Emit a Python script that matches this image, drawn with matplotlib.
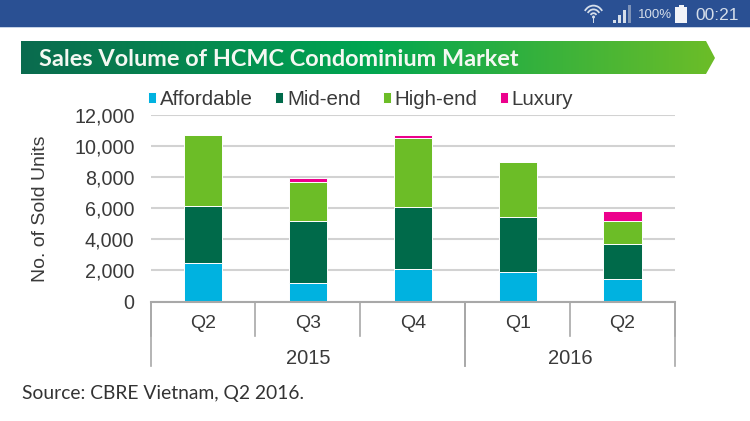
import numpy as np
import matplotlib
matplotlib.use("Agg")
import matplotlib.pyplot as plt
from matplotlib.patches import Polygon, Rectangle, Arc, Circle
from matplotlib.colors import LinearSegmentedColormap

quarters = ["Q2", "Q3", "Q4", "Q1", "Q2"]
years = ["2015", "2016"]
year_spans = [(0, 3), (3, 5)]
affordable = [2490, 1160, 2060, 1870, 1460]
mid_end = [3650, 4040, 4015, 3580, 2210]
high_end = [4550, 2460, 4445, 3550, 1500]
luxury = [0, 305, 190, 0, 670]
series = [("Affordable", affordable, "#00B2E0"), ("Mid-end", mid_end, "#006A4A"),
          ("High-end", high_end, "#6CBD27"), ("Luxury", luxury, "#EC008C")]
yticks = [0, 2000, 4000, 6000, 8000, 10000, 12000]
W, H = 750, 421
TXT = "#3A3A3A"
plt.rcParams["font.family"] = ["Liberation Sans", "DejaVu Sans"]

fig = plt.figure(figsize=(7.5, 4.21), dpi=100, facecolor="white")
bg = fig.add_axes([0, 0, 1, 1], zorder=0)
bg.set_xlim(0, W); bg.set_ylim(H, 0); bg.axis("off")

# status bar
bg.add_patch(Rectangle((0, 0), W, 27, color="#2A5093", lw=0))
bg.add_patch(Rectangle((0, 27), W, 1.2, color="#C5D2E6", lw=0))
ICON = "#D5DEEA"
for r in (4, 8, 12):
    bg.add_patch(Arc((593.5, 17), r * 1.7, r * 1.9, theta1=215, theta2=325, color=ICON, lw=1.3))
bg.add_patch(Circle((593.5, 17), 1.5, color=ICON, lw=0))
bg.add_patch(Rectangle((592.7, 17), 1.6, 6, color=ICON, lw=0))
for i, (x, h) in enumerate(zip((613, 618, 623, 627.5), (3, 8, 13, 18))):
    bg.add_patch(Rectangle((x, 23 - h), 3, h, color=ICON if i < 3 else "#7E93B8", lw=0))
bg.text(655.5, 15, "100%", color=ICON, fontsize=9.5, ha="center", va="center")
bg.add_patch(Rectangle((675, 7), 12, 16, color="#F2F4F8", lw=0))
bg.add_patch(Rectangle((678.5, 4.5), 5, 3, color="#F2F4F8", lw=0))
bg.text(717.5, 15, "00:21", color=ICON, fontsize=12.5, ha="center", va="center")

# banner
cmap = LinearSegmentedColormap.from_list("b", ["#0A6B4E", "#00A651", "#6CBD28"])
im = bg.imshow(np.linspace(0, 1, 256)[None, :], cmap=cmap, extent=(21, 715, 74, 41), aspect="auto", zorder=1)
bg.set_xlim(0, W); bg.set_ylim(H, 0)
poly = Polygon([(21, 41), (706, 41), (715, 58), (706, 74), (21, 74)], closed=True, transform=bg.transData, fc="none", ec="none")
bg.add_patch(poly)
im.set_clip_path(poly)
bg.text(39, 59, "Sales Volume of HCMC Condominium Market", color="#F4F8F2", fontsize=16.9,
        fontweight="bold", family="Lato", ha="left", va="center", zorder=2)
bg.text(22, 393, "Source: CBRE Vietnam, Q2 2016.", color="#333333", fontsize=13.9,
        family="Lato", ha="left", va="center")

# chart
L, R, T, B = 150.5, 675, 115, 301.5
ax = fig.add_axes([L / W, 1 - B / H, (R - L) / W, (B - T) / H], zorder=1)
ax.patch.set_alpha(0)
x = np.arange(len(quarters))
bottom = np.zeros(len(x))
for name, vals, col in series:
    ax.bar(x, vals, 0.365, bottom=bottom, color=col, edgecolor="white", linewidth=0.7, label=name, zorder=3)
    bottom += np.array(vals)
ax.set_xlim(-0.5, 4.5)
ax.set_ylim(0, 12000)
ax.set_yticks(yticks, [f"{v:,}" for v in yticks], fontsize=14.2, color=TXT)
ax.tick_params(axis="y", length=0, pad=11.5)
ax.tick_params(axis="x", length=0, labelbottom=False)
ax.grid(axis="y", color="#D2D2D2", lw=1.5, zorder=1)
ax.set_axisbelow(True)
for s in ax.spines.values():
    s.set_visible(False)
ax.axhline(0, color="#A8A8A8", lw=1.5, clip_on=False, zorder=4)
ax.set_ylabel("No. of Sold Units", fontsize=14, color=TXT)
ax.yaxis.set_label_coords((49 - L) / (R - L), 0.5)

tr = ax.get_xaxis_transform()
fy = lambda py: (B - py) / (B - T)
for i in range(len(quarters) + 1):
    ax.plot([i - 0.5] * 2, [0, fy(336)], transform=tr, color="#A8A8A8", lw=1.2, clip_on=False)
for a, b in year_spans:
    for e in (a, b):
        ax.plot([e - 0.5] * 2, [0, fy(366)], transform=tr, color="#A8A8A8", lw=1.2, clip_on=False)
for i, q in enumerate(quarters):
    ax.text(i, fy(323), q, transform=tr, fontsize=14, color=TXT, ha="center", va="center")
for y, (a, b) in zip(years, year_spans):
    ax.text((a + b - 1) / 2, fy(358), y, transform=tr, fontsize=14.5, color=TXT, ha="center", va="center")

ax.legend(loc="lower left", bbox_to_anchor=((142 - L) / (R - L), 1.0), ncol=4, frameon=False,
          fontsize=14.8, labelcolor=TXT, handlelength=0.38, handleheight=0.38, handletextpad=0.2,
          columnspacing=1.08, borderpad=0, borderaxespad=0.3)
fig.savefig("out.png", dpi=100)
